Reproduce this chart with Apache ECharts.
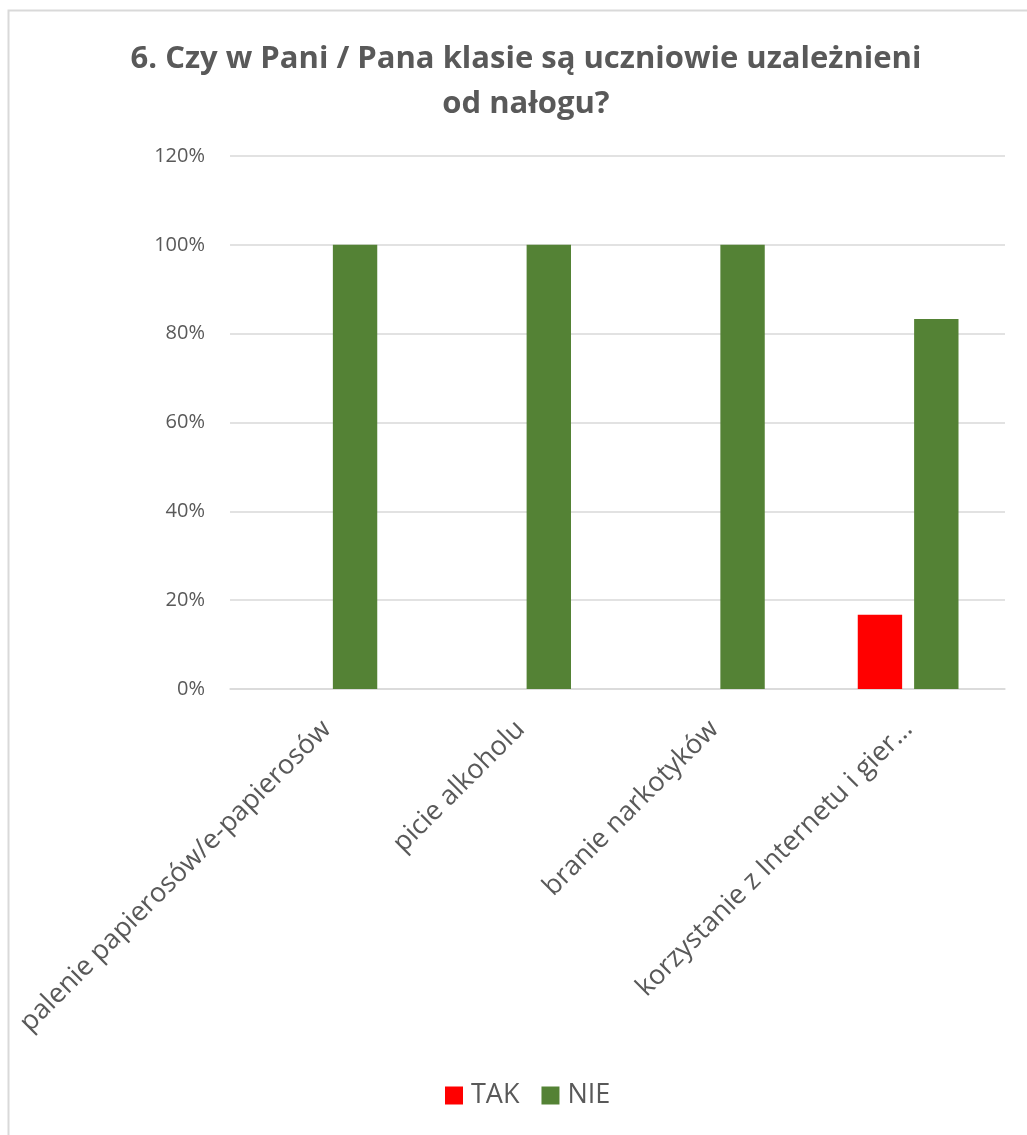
<!DOCTYPE html>
<html><head><meta charset="utf-8">
<script src="https://cdn.jsdelivr.net/npm/echarts@6/dist/echarts.min.js"></script>
<style>html,body{margin:0;padding:0;background:#fff}#c{width:1027px;height:1135px}</style>
</head><body><div id="c"></div>
<script>
const title = '6. Czy w Pani / Pana klasie są uczniowie uzależnieni\nod nałogu?';
const categories = ['palenie papierosów/e-papierosów', 'picie alkoholu', 'branie narkotyków', 'korzystanie z Internetu i gier…'];
const seriesNames = ['TAK', 'NIE'];
const takValues = [0, 0, 0, 0.167];
const nieValues = [1, 1, 1, 0.833];
const yTicks = [0, 0.2, 0.4, 0.6, 0.8, 1.0, 1.2];

const chart = echarts.init(document.getElementById('c'), null, {renderer: 'canvas'});
const font = 'Open Sans, Liberation Sans, sans-serif';
chart.setOption({
  backgroundColor: '#fff',
  animation: false,
  graphic: [{type: 'rect', shape: {x: 8.5, y: 10.5, width: 1040, height: 1140}, style: {fill: 'none', stroke: '#d9d9d9', lineWidth: 2}, silent: true}],
  title: {
    text: title, left: 521, textAlign: 'center', top: 32,
    textStyle: {fontFamily: font, fontSize: 31, fontWeight: 'bold', color: '#595959', lineHeight: 45, align: 'center'}
  },
  legend: {
    data: seriesNames, bottom: 21, left: 440, itemWidth: 18, itemHeight: 18, itemGap: 22,
    icon: 'rect',
    textStyle: {fontFamily: font, fontSize: 27, color: '#595959', padding: [0, 0, 0, 3]}
  },
  grid: {left: 230, right: 22, top: 156, bottom: 446, containLabel: false},
  xAxis: {
    type: 'category', data: categories,
    axisLine: {lineStyle: {color: '#d9d9d9', width: 1.5}},
    axisTick: {show: false},
    axisLabel: {rotate: 45, interval: 0, fontFamily: font, fontSize: 27, color: '#595959', margin: 36}
  },
  yAxis: {
    type: 'value', min: 0, max: 1.2, interval: 0.2,
    axisLine: {show: false}, axisTick: {show: false},
    splitLine: {lineStyle: {color: '#d9d9d9', width: 1.5}},
    axisLabel: {fontFamily: font, fontSize: 20, color: '#595959', margin: 25,
      formatter: v => Math.round(v * 100) + '%'}
  },
  series: [
    {name: seriesNames[0], type: 'bar', data: takValues, itemStyle: {color: '#ff0000'}, barGap: '27%', barCategoryGap: '48%'},
    {name: seriesNames[1], type: 'bar', data: nieValues, itemStyle: {color: '#548235'}, barGap: '27%', barCategoryGap: '48%'}
  ]
});
</script></body></html>
